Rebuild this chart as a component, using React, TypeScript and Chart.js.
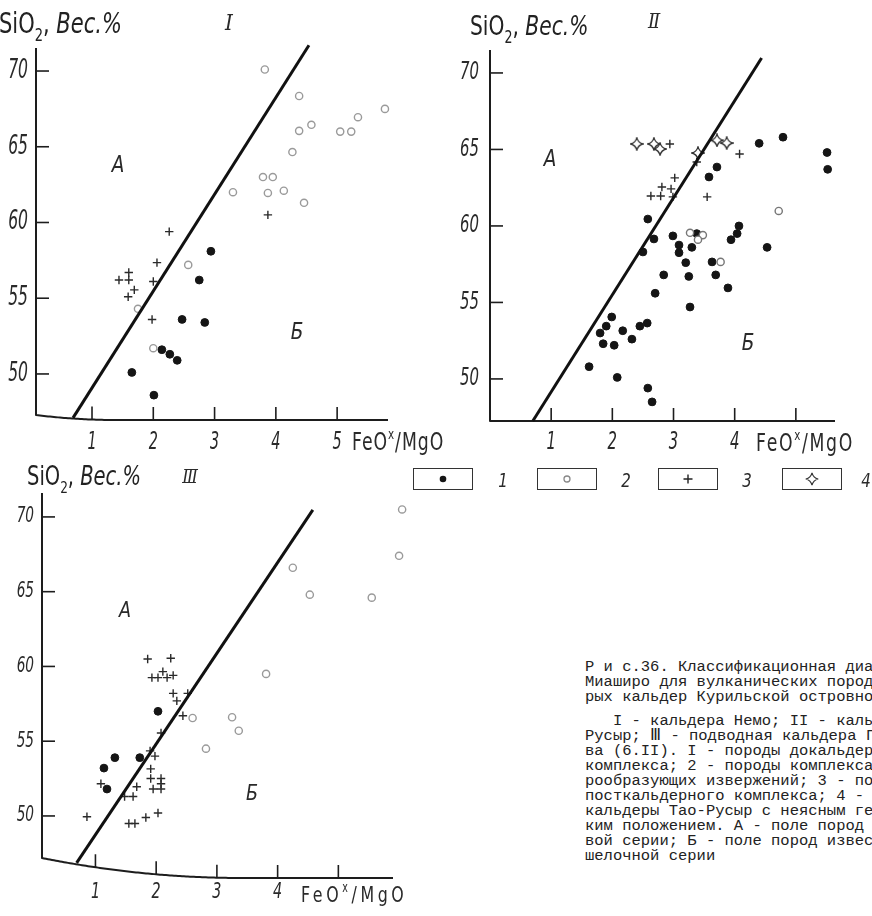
import React, { useEffect, useRef } from "react";
import { Chart, registerables } from "chart.js";
Chart.register(...registerables);

type P = { x: number; y: number };

// ---------- shared tick values ----------
const yTickValues = [50, 55, 60, 65, 70];
const xTickValues = [1, 2, 3, 4, 5];
const xTickLabelsI = ["1", "2", "3", "4", "5"];
const xTickLabelsII = ["1", "2", "3", "4", ""];
const xTickLabelsIII = ["1", "2", "3", "4", ""];
const legendLabels = ["1", "2", "3", "4"];

// ---------- Panel I (кальдера Немо) ----------
const p1Filled: P[] = [
  { x: 2.94, y: 58.1 }, { x: 2.75, y: 56.2 }, { x: 2.47, y: 53.6 }, { x: 2.84, y: 53.4 },
  { x: 2.14, y: 51.6 }, { x: 2.27, y: 51.3 }, { x: 2.39, y: 50.9 }, { x: 1.65, y: 50.1 },
  { x: 2.01, y: 48.6 },
];
const p1Open: P[] = [
  { x: 2.57, y: 57.2 }, { x: 2.0, y: 51.7 }, { x: 1.75, y: 54.3 }, { x: 3.82, y: 70.1 },
  { x: 4.38, y: 68.35 }, { x: 5.78, y: 67.5 }, { x: 5.34, y: 66.95 }, { x: 4.58, y: 66.45 },
  { x: 4.38, y: 66.05 }, { x: 5.05, y: 66.0 }, { x: 5.23, y: 66.0 }, { x: 4.27, y: 64.65 },
  { x: 3.79, y: 63.0 }, { x: 3.95, y: 63.0 }, { x: 3.3, y: 62.0 }, { x: 3.87, y: 61.95 },
  { x: 4.13, y: 62.1 }, { x: 4.46, y: 61.3 },
];
const p1Cross: P[] = [
  { x: 3.87, y: 60.5 }, { x: 2.26, y: 59.4 }, { x: 2.06, y: 57.35 }, { x: 1.6, y: 56.7 },
  { x: 1.44, y: 56.2 }, { x: 1.6, y: 56.2 }, { x: 2.0, y: 56.1 }, { x: 1.69, y: 55.55 },
  { x: 1.59, y: 55.1 }, { x: 1.98, y: 53.6 },
];
const p1Line: P[] = [{ x: 0.69, y: 47.1 }, { x: 4.54, y: 71.7 }];

// ---------- Panel II (кальдера Тао-Русыр) ----------
const p2Filled: P[] = [
  { x: 4.07, y: 60.0 }, { x: 4.04, y: 59.5 }, { x: 3.94, y: 59.1 }, { x: 4.53, y: 58.6 },
  { x: 2.99, y: 59.35 }, { x: 2.68, y: 59.15 }, { x: 2.5, y: 58.3 }, { x: 3.09, y: 58.75 },
  { x: 3.09, y: 58.25 }, { x: 3.3, y: 58.6 }, { x: 3.38, y: 59.5 }, { x: 3.2, y: 57.6 },
  { x: 3.63, y: 57.65 }, { x: 2.84, y: 56.8 }, { x: 3.25, y: 56.7 }, { x: 3.69, y: 56.8 },
  { x: 3.89, y: 55.95 }, { x: 2.7, y: 55.6 }, { x: 3.27, y: 54.7 }, { x: 2.57, y: 53.65 },
  { x: 2.45, y: 53.45 }, { x: 2.58, y: 49.4 }, { x: 2.65, y: 48.5 }, { x: 4.79, y: 65.8 },
  { x: 4.4, y: 65.4 }, { x: 5.51, y: 64.8 }, { x: 5.52, y: 63.7 }, { x: 3.71, y: 63.85 },
  { x: 3.58, y: 63.2 }, { x: 2.58, y: 60.45 }, { x: 1.62, y: 50.8 }, { x: 1.8, y: 53.0 },
  { x: 1.9, y: 53.45 }, { x: 1.99, y: 54.05 }, { x: 1.85, y: 52.3 }, { x: 2.03, y: 52.2 },
  { x: 2.08, y: 50.1 }, { x: 2.17, y: 53.15 }, { x: 2.32, y: 52.6 },
];
const p2Open: P[] = [
  { x: 4.72, y: 60.98 }, { x: 3.77, y: 57.65 }, { x: 3.27, y: 59.55 }, { x: 3.48, y: 59.4 },
  { x: 3.4, y: 59.1 },
];
const p2Cross: P[] = [
  { x: 2.94, y: 65.36 }, { x: 4.08, y: 64.7 }, { x: 3.02, y: 63.14 }, { x: 2.81, y: 62.55 },
  { x: 2.96, y: 62.42 }, { x: 2.63, y: 61.96 }, { x: 2.79, y: 61.96 }, { x: 2.99, y: 61.9 },
  { x: 3.55, y: 61.9 }, { x: 3.38, y: 64.18 },
];
const p2Diamond: P[] = [
  { x: 2.4, y: 65.36 }, { x: 2.68, y: 65.36 }, { x: 2.78, y: 65.03 }, { x: 3.4, y: 64.77 },
  { x: 3.71, y: 65.6 }, { x: 3.87, y: 65.42 },
];
const p2Line: P[] = [{ x: 0.7, y: 47.25 }, { x: 4.44, y: 70.98 }];

// ---------- Panel III (подводная кальдера) ----------
const p3Filled: P[] = [
  { x: 2.03, y: 57.0 }, { x: 1.32, y: 53.9 }, { x: 1.73, y: 53.9 }, { x: 1.14, y: 53.2 },
  { x: 1.19, y: 51.8 },
];
const p3Open: P[] = [
  { x: 2.6, y: 56.55 }, { x: 3.25, y: 56.6 }, { x: 3.36, y: 55.7 }, { x: 2.82, y: 54.5 },
  { x: 6.05, y: 70.5 }, { x: 6.0, y: 67.4 }, { x: 5.55, y: 64.6 }, { x: 4.53, y: 64.8 },
  { x: 4.25, y: 66.6 }, { x: 3.81, y: 59.5 },
];
const p3Cross: P[] = [
  { x: 1.86, y: 60.5 }, { x: 2.24, y: 60.55 }, { x: 1.93, y: 59.25 }, { x: 2.03, y: 59.25 },
  { x: 2.11, y: 59.65 }, { x: 2.18, y: 59.25 }, { x: 2.28, y: 59.4 }, { x: 2.28, y: 58.2 },
  { x: 2.34, y: 57.7 }, { x: 2.52, y: 58.2 }, { x: 2.44, y: 56.7 }, { x: 2.08, y: 55.55 },
  { x: 1.9, y: 54.35 }, { x: 1.98, y: 54.0 }, { x: 1.91, y: 53.15 }, { x: 1.91, y: 52.5 },
  { x: 2.08, y: 52.5 }, { x: 2.08, y: 52.15 }, { x: 2.08, y: 51.8 }, { x: 1.95, y: 51.8 },
  { x: 1.68, y: 51.95 }, { x: 1.09, y: 52.15 }, { x: 1.48, y: 51.3 }, { x: 1.62, y: 51.3 },
  { x: 0.86, y: 49.95 }, { x: 1.55, y: 49.5 }, { x: 1.65, y: 49.5 }, { x: 1.83, y: 49.9 },
  { x: 2.03, y: 50.2 },
];
const p3Line: P[] = [{ x: 0.69, y: 46.86 }, { x: 4.58, y: 70.47 }];

// ---------- caption ----------
const captionHead = [
  "Р и с.36. Классификационная диаграмма",
  "Миаширо для вулканических пород некото-",
  "рых кальдер Курильской островной дуги",
];
const captionBody = [
  "   I - кальдера Немо; II - кальдера Тао-",
  "Русыр; Ⅲ - подводная кальдера Головни-",
  "ва (6.II). I - породы докальдерного",
  "комплекса; 2 - породы комплекса кальде-",
  "рообразующих извержений; 3 - породы",
  "посткальдерного комплекса; 4 - породы",
  "кальдеры Тао-Русыр с неясным геологичес-",
  "ким положением. А - поле пород толеито-",
  "вой серии; Б - поле пород известково-",
  "шелочной серии",
];

const INK = "#1d1d1d";
const TICK_FONT = "'DejaVu Sans', sans-serif";

function makeStar(): HTMLCanvasElement {
  const c = document.createElement("canvas");
  c.width = 14;
  c.height = 14;
  const g = c.getContext("2d")!;
  g.strokeStyle = "#333";
  g.lineWidth = 1.3;
  g.fillStyle = "#fff";
  g.beginPath();
  g.moveTo(7, 0.8);
  g.quadraticCurveTo(8.3, 5.7, 13.2, 7);
  g.quadraticCurveTo(8.3, 8.3, 7, 13.2);
  g.quadraticCurveTo(5.7, 8.3, 0.8, 7);
  g.quadraticCurveTo(5.7, 5.7, 7, 0.8);
  g.closePath();
  g.fill();
  g.stroke();
  return c;
}

function condensed(ctx: CanvasRenderingContext2D, text: string, x: number, y: number, size: number, sx: number, align: CanvasTextAlign) {
  ctx.save();
  ctx.font = `italic ${size}px ${TICK_FONT}`;
  ctx.textBaseline = "middle";
  ctx.textAlign = align;
  ctx.fillStyle = "#2a2a2a";
  ctx.translate(x, y);
  ctx.scale(sx, 1);
  ctx.fillText(text, 0, 0);
  ctx.restore();
}

const axesPlugin = {
  id: "sketchAxes",
  beforeDatasetsDraw(chart: any, _a: any, o: any) {
    const ctx: CanvasRenderingContext2D = chart.ctx;
    const { left, top, bottom } = chart.chartArea;
    const xs = chart.scales.x;
    const ys = chart.scales.y;
    const xEnd = xs.getPixelForValue(o.xEnd);
    const base = (px: number) => bottom - o.drop * Math.pow(Math.max(0, 1 - (px - left) / o.span), 2);
    ctx.save();
    ctx.strokeStyle = INK;
    ctx.lineWidth = 2;
    ctx.lineJoin = "round";
    ctx.beginPath();
    ctx.moveTo(left, top);
    ctx.lineTo(left, base(left));
    for (let px = left; px <= xEnd; px += 2) ctx.lineTo(px, base(px));
    ctx.lineTo(xEnd, base(xEnd));
    ctx.stroke();
    ctx.lineWidth = 1.6;
    o.yTicks.forEach((v: number) => {
      const py = ys.getPixelForValue(v);
      ctx.beginPath();
      ctx.moveTo(left, py);
      ctx.lineTo(left + o.tickLen, py);
      ctx.stroke();
      condensed(ctx, String(v), left - o.yGap, py, o.yFont, o.sx, "right");
    });
    o.xTicks.forEach((v: number, i: number) => {
      const px = xs.getPixelForValue(v);
      const b = base(px);
      ctx.beginPath();
      ctx.moveTo(px, b);
      ctx.lineTo(px, b - o.tickLen);
      ctx.stroke();
      const lab = o.xLabels[i];
      if (lab) condensed(ctx, lab, px, bottom + o.xLabelDy, o.xFont, o.sx, "center");
    });
    ctx.restore();
  },
};

type PanelCfg = {
  left: number; top: number; w: number; h: number;
  pad: { left: number; right: number; top: number; bottom: number };
  xmin: number; xmax: number; xEnd: number; ymin: number; ymax: number;
  filled: P[]; open: P[]; cross: P[]; diamond?: P[]; line: P[];
  xLabels: string[]; drop: number; span: number; yFont: number; xFont: number; yGap: number; xLabelDy: number; sx: number;
  openColor: string;
};

function Panel({ cfg }: { cfg: PanelCfg }) {
  const ref = useRef<HTMLCanvasElement>(null);
  useEffect(() => {
    const star = makeStar();
    const datasets: any[] = [
      { data: cfg.line, showLine: true, borderColor: "#111", borderWidth: 3, pointRadius: 0, clip: false },
      { data: cfg.open, pointStyle: "circle", pointRadius: 3.6, backgroundColor: "#fff", borderColor: cfg.openColor, pointBorderWidth: 1.4, clip: false },
      { data: cfg.cross, pointStyle: "cross", pointRadius: 4.2, borderColor: "#2a2a2a", pointBorderWidth: 1.4, clip: false },
      { data: cfg.filled, pointStyle: "circle", pointRadius: 3.9, backgroundColor: "#151515", borderColor: "#151515", pointBorderWidth: 1, clip: false },
    ];
    if (cfg.diamond) datasets.push({ data: cfg.diamond, pointStyle: star, pointRadius: 7, clip: false });
    const chart = new Chart(ref.current!, {
      type: "scatter",
      data: { datasets },
      options: {
        animation: false,
        responsive: false,
        events: [],
        layout: { padding: cfg.pad },
        scales: {
          x: { type: "linear", display: false, min: cfg.xmin, max: cfg.xmax },
          y: { type: "linear", display: false, min: cfg.ymin, max: cfg.ymax },
        },
        plugins: {
          legend: { display: false },
          tooltip: { enabled: false },
          sketchAxes: {
            yTicks: yTickValues, xTicks: xTickValues, xLabels: cfg.xLabels, xEnd: cfg.xEnd,
            drop: cfg.drop, span: cfg.span, tickLen: 13, yFont: cfg.yFont, xFont: cfg.xFont,
            yGap: cfg.yGap, xLabelDy: cfg.xLabelDy, sx: cfg.sx,
          },
        } as any,
      },
      plugins: [axesPlugin],
    } as any);
    return () => chart.destroy();
  }, []);
  return (
    <canvas
      ref={ref}
      width={cfg.w}
      height={cfg.h}
      style={{ position: "absolute", left: cfg.left, top: cfg.top, width: cfg.w, height: cfg.h }}
    />
  );
}

const panelI: PanelCfg = {
  left: 0, top: 0, w: 445, h: 465,
  pad: { left: 36, right: 57, top: 48, bottom: 45 },
  xmin: 0.086, xmax: 5.83, xEnd: 5.83, ymin: 46.96, ymax: 71.52,
  filled: p1Filled, open: p1Open, cross: p1Cross, line: p1Line,
  xLabels: xTickLabelsI, drop: 5, span: 80, yFont: 26, xFont: 24, yGap: 8, xLabelDy: 23, sx: 0.6,
  openColor: "#9a9a9a",
};
const panelII: PanelCfg = {
  left: 440, top: 0, w: 432, h: 465,
  pad: { left: 50, right: 37, top: 50, bottom: 44 },
  xmin: 0, xmax: 5.64, xEnd: 5.64, ymin: 47.25, ymax: 71.5,
  filled: p2Filled, open: p2Open, cross: p2Cross, diamond: p2Diamond, line: p2Line,
  xLabels: xTickLabelsII, drop: 0, span: 1, yFont: 24, xFont: 24, yGap: 11, xLabelDy: 22, sx: 0.62,
  openColor: "#777",
};
const panelIII: PanelCfg = {
  left: 0, top: 480, w: 440, h: 436,
  pad: { left: 42, right: 22.7, top: 13, bottom: 38 },
  xmin: 0.12, xmax: 6.3, xEnd: 5.9, ymin: 45.85, ymax: 71.6,
  filled: p3Filled, open: p3Open, cross: p3Cross, line: p3Line,
  xLabels: xTickLabelsIII, drop: 20, span: 200, yFont: 21, xFont: 22, yGap: 8, xLabelDy: 14, sx: 0.65,
  openColor: "#9a9a9a",
};

function Title({ x, y, size }: { x: number; y: number; size: number }) {
  return (
    <div style={{ position: "absolute", left: x, top: y, fontFamily: "'DejaVu Sans', sans-serif", fontSize: size, lineHeight: 1, whiteSpace: "nowrap", color: "#222", transform: "scaleX(0.75)", transformOrigin: "left center" }}>
      SiO<span style={{ fontSize: size * 0.62, position: "relative", top: size * 0.3 }}>2</span>, <i>Вес.%</i>
    </div>
  );
}

function Lbl({ x, y, size, text, sx = 0.8, family = "'DejaVu Sans', sans-serif" }: { x: number; y: number; size: number; text: string; sx?: number; family?: string }) {
  return (
    <div style={{ position: "absolute", left: x, top: y, fontFamily: family, fontStyle: "italic", fontSize: size, lineHeight: 1, whiteSpace: "nowrap", color: "#2a2a2a", transform: `translate(-50%,-50%) scaleX(${sx})` }}>
      {text}
    </div>
  );
}

function AxisTitle({ x, y, size, ls }: { x: number; y: number; size: number; ls: number }) {
  return (
    <div style={{ position: "absolute", left: x, top: y, fontFamily: "'DejaVu Sans', sans-serif", fontSize: size, lineHeight: 1, letterSpacing: ls, whiteSpace: "nowrap", color: "#2a2a2a", transformOrigin: "left center", transform: "translateY(-50%) scaleX(0.72)" }}>
      FeO<span style={{ fontSize: size * 0.6, position: "relative", top: -size * 0.45 }}>x</span>/MgO
    </div>
  );
}

function Sym({ kind }: { kind: number }) {
  return (
    <svg width="16" height="16" viewBox="0 0 16 16">
      {kind === 0 && <circle cx="8" cy="8" r="3.3" fill="#151515" />}
      {kind === 1 && <circle cx="8" cy="8" r="3" fill="#fff" stroke="#888" strokeWidth="1.3" />}
      {kind === 2 && <path d="M8 3.5V12.5M3.5 8H12.5" stroke="#222" strokeWidth="1.4" />}
      {kind === 3 && <path d="M8 1.8Q9.2 6.8 14.2 8Q9.2 9.2 8 14.2Q6.8 9.2 1.8 8Q6.8 6.8 8 1.8Z" fill="#fff" stroke="#333" strokeWidth="1.2" />}
    </svg>
  );
}

const legendBoxLeft = [413, 537, 658, 782];
const legendNumX = [503, 626, 747, 866];

export default function App() {
  return (
    <div style={{ position: "fixed", left: 0, top: 0, width: 872, height: 916, overflow: "hidden", background: "#fff" }}>
      <Panel cfg={panelI} />
      <Panel cfg={panelII} />
      <Panel cfg={panelIII} />

      <Title x={-1} y={10} size={28} />
      <Title x={470} y={12} size={27} />
      <Title x={27} y={463} size={26} />

      <Lbl x={229} y={23} size={22} text="Ⅰ" sx={0.9} family="'DejaVu Serif', serif" />
      <Lbl x={654} y={21} size={20} text="Ⅱ" sx={0.9} family="'DejaVu Serif', serif" />
      <Lbl x={190} y={477} size={18} text="Ⅲ" sx={0.9} family="'DejaVu Serif', serif" />

      <Lbl x={118} y={164} size={23} text="А" />
      <Lbl x={297} y={331} size={23} text="Б" />
      <Lbl x={550} y={158} size={23} text="А" />
      <Lbl x={748} y={342} size={23} text="Б" />
      <Lbl x={125} y={610} size={22} text="А" />
      <Lbl x={252} y={793} size={22} text="Б" />

      <AxisTitle x={352} y={442} size={24} ls={1.3} />
      <AxisTitle x={756} y={443} size={24} ls={2.3} />
      <AxisTitle x={301} y={895} size={22} ls={5} />

      {legendBoxLeft.map((lx, i) => (
        <React.Fragment key={i}>
          <div style={{ position: "absolute", left: lx, top: 468, width: 60, height: 22, border: "1.5px solid #333", boxSizing: "border-box", display: "flex", alignItems: "center", justifyContent: "center" }}>
            <Sym kind={i} />
          </div>
          <Lbl x={legendNumX[i]} y={480} size={20} text={legendLabels[i]} sx={0.75} />
        </React.Fragment>
      ))}

      <div style={{ position: "absolute", left: 585, top: 660, fontFamily: "'Liberation Mono', monospace", fontSize: 15.5, lineHeight: "15px", whiteSpace: "pre", color: "#222" }}>
        {captionHead.map((l, i) => (<div key={"h" + i}>{l}</div>))}
        <div style={{ height: 9 }} />
        {captionBody.map((l, i) => (<div key={"b" + i}>{l}</div>))}
      </div>
    </div>
  );
}
